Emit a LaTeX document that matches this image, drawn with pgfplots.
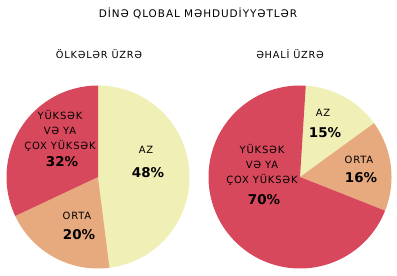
\documentclass[border=0pt]{standalone}
\usepackage{pgfplots}
\pgfplotsset{compat=1.18}
\usepackage{fontspec}
\setmainfont{DejaVu Sans}
\newfontfamily\spaced[LetterSpace=8]{DejaVu Sans}
\newfontfamily\spacedT[LetterSpace=9]{DejaVu Sans}
\definecolor{cAZ}{RGB}{240,239,181}
\definecolor{cORTA}{RGB}{231,169,126}
\definecolor{cHIGH}{RGB}{216,72,92}
% shares (percent)
\def\lAZ{48}\def\lORTA{20}\def\lHIGH{32}
\def\rAZ{15}\def\rORTA{16}\def\rHIGH{70}
\def\R{91.5}
\pgfmathsetmacro{\lA}{90-\lAZ*3.6}
\pgfmathsetmacro{\lB}{\lA-\lORTA*3.6}
\pgfmathsetmacro{\lC}{\lB-\lHIGH*3.6}
\pgfmathsetmacro{\rA}{90-\rAZ*3.6}
\pgfmathsetmacro{\rB}{\rA-\rORTA*3.6}
\pgfmathsetmacro{\rC}{\rB-\rHIGH*3.6}
\newcommand{\slice}[5]{%
  \addplot[fill=#5, draw=none, domain=#3:#4, samples=120, variable=\t]
    ({#1+\R*cos(\t)},{#2+\R*sin(\t)}) -- (axis cs:#1,#2) -- cycle;}
\tikzset{lab/.style={font=\spaced\fontsize{10}{15}\selectfont, align=center, inner sep=0pt},
         pct/.style={font=\fontsize{13.5}{15}\selectfont\bfseries, inner sep=0pt}}
\begin{document}
\begin{tikzpicture}
\begin{axis}[
  width=397bp, height=276bp, scale only axis,
  xmin=0, xmax=397, ymin=0, ymax=276,
  hide axis, clip=false,
]
\path (axis cs:0,0) rectangle (axis cs:397,276);
% left pie: by countries
\slice{98}{99}{\lA}{90}{cAZ}
\slice{98}{99}{\lB}{\lA}{cORTA}
\slice{98}{99}{\lC}{\lB}{cHIGH}
% right pie: by population
\slice{300}{99}{\rA}{90}{cAZ}
\slice{300}{99}{\rB}{\rA}{cORTA}
\slice{300}{99}{\rC}{\rB}{cHIGH}
% titles
\node[font=\spacedT\fontsize{10.5}{12}\selectfont, inner sep=0pt] at (axis cs:198,263) {DİNƏ QLOBAL MƏHDUDİYYƏTLƏR};
\node[font=\spaced\fontsize{9.8}{11}\selectfont, inner sep=0pt] at (axis cs:99,222) {ÖLKƏLƏR ÜZRƏ};
\node[font=\spaced\fontsize{9.8}{11}\selectfont, inner sep=0pt] at (axis cs:290,222) {ƏHALİ ÜZRƏ};
% left labels
\node[lab] at (axis cs:146,126) {AZ};
\node[pct] at (axis cs:148,103) {\lAZ\%};
\node[lab] at (axis cs:60,145) {YÜKSƏK\\VƏ YA\\ÇOX YÜKSƏK};
\node[pct] at (axis cs:62,114) {\lHIGH\%};
\node[lab] at (axis cs:77,60) {ORTA};
\node[pct] at (axis cs:79,41) {\lORTA\%};
% right labels
\node[lab] at (axis cs:323,163) {AZ};
\node[pct] at (axis cs:325,143) {\rAZ\%};
\node[lab] at (axis cs:359,116) {ORTA};
\node[pct] at (axis cs:361,98) {\rORTA\%};
\node[lab] at (axis cs:262,111) {YÜKSƏK\\VƏ YA\\ÇOX YÜKSƏK};
\node[pct] at (axis cs:264,76) {\rHIGH\%};
\end{axis}
\end{tikzpicture}
\end{document}
